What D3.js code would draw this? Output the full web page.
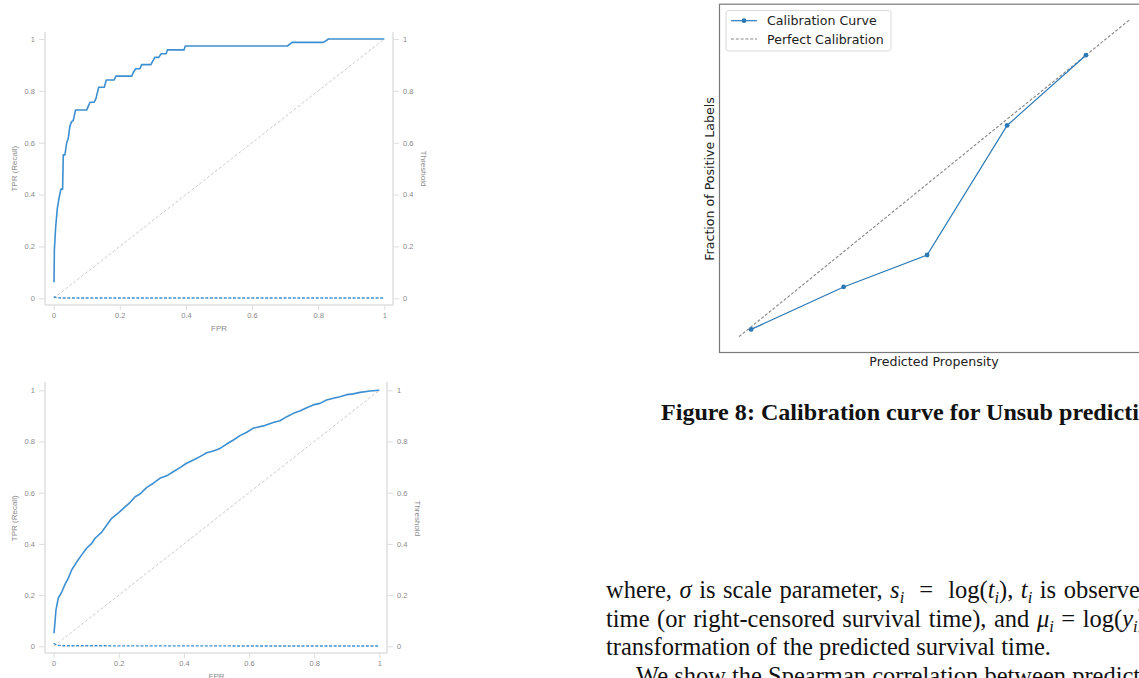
<!DOCTYPE html>
<html>
<head>
<meta charset="utf-8">
<script src="https://cdn.jsdelivr.net/npm/d3@7"></script>
<style>
  html, body { margin: 0; padding: 0; background: #fff; overflow: hidden; }
  svg { display: block; }
</style>
</head>
<body>
<svg id="page" width="1139" height="678"></svg>
<script>
// ---- data ----
const rocTicks = [0, 0.2, 0.4, 0.6, 0.8, 1];

// top ROC (step-like)
const roc1Fpr = [0.001, 0.002, 0.006, 0.011, 0.017, 0.022, 0.027, 0.029, 0.034, 0.039, 0.044, 0.049, 0.054, 0.059, 0.066,
  0.100, 0.105, 0.110, 0.122, 0.128, 0.136, 0.153, 0.159, 0.183, 0.188, 0.236, 0.242, 0.248, 0.261, 0.266, 0.294,
  0.300, 0.306, 0.318, 0.325, 0.340, 0.344, 0.394, 0.398, 0.707, 0.721, 0.816, 0.831, 1.000];
const roc1Tpr = [0.062, 0.186, 0.276, 0.347, 0.392, 0.421, 0.421, 0.553, 0.553, 0.598, 0.617, 0.664, 0.681, 0.685, 0.726,
  0.726, 0.742, 0.756, 0.756, 0.771, 0.814, 0.814, 0.842, 0.842, 0.857, 0.857, 0.874, 0.885, 0.885, 0.901, 0.901,
  0.916, 0.929, 0.929, 0.943, 0.943, 0.958, 0.958, 0.973, 0.973, 0.987, 0.987, 1.000, 1.000];

// bottom ROC (smooth)
const roc2Fpr = [0.001, 0.007, 0.014, 0.025, 0.035, 0.045, 0.055, 0.071, 0.086, 0.101, 0.117, 0.127, 0.147, 0.163, 0.178,
  0.198, 0.214, 0.234, 0.250, 0.265, 0.286, 0.306, 0.326, 0.347, 0.367, 0.388, 0.408, 0.429, 0.449, 0.470, 0.490,
  0.511, 0.531, 0.552, 0.572, 0.593, 0.613, 0.644, 0.674, 0.695, 0.716, 0.736, 0.756, 0.777, 0.797, 0.818, 0.838,
  0.859, 0.879, 0.900, 0.920, 0.941, 0.971, 1.000];
const roc2Tpr = [0.051, 0.142, 0.188, 0.213, 0.243, 0.266, 0.298, 0.330, 0.357, 0.383, 0.402, 0.422, 0.445, 0.474, 0.500,
  0.520, 0.539, 0.561, 0.584, 0.595, 0.621, 0.637, 0.656, 0.666, 0.682, 0.698, 0.715, 0.728, 0.741, 0.756, 0.763,
  0.773, 0.790, 0.806, 0.823, 0.836, 0.852, 0.861, 0.874, 0.881, 0.897, 0.910, 0.919, 0.932, 0.943, 0.949, 0.962,
  0.969, 0.975, 0.983, 0.986, 0.992, 0.997, 1.000];

// threshold curves (nearly zero)
const thrFpr = [0, 0.01, 0.03, 1];
const thr1 = [0.006, 0.002, 0.001, 0.001];
const thr2 = [0.012, 0.004, 0.002, 0.001];

// diagonal reference
const diagXY = [0, 1];

// calibration
const calPred = [0.031, 0.268, 0.482, 0.687, 0.889];
const calFrac = [0.023, 0.157, 0.258, 0.667, 0.889];
const perfectXY = [0, 1];
const legendLabels = ["Calibration Curve", "Perfect Calibration"];

const captionText = "Figure 8: Calibration curve for Unsub prediction";

// body text: [text, style] with style '' | 'i' (italic) | 'sub' (italic subscript)
const bodyLines = [
  [["where, "], ["σ", "i"], [" is scale parameter, "], ["s", "i"], ["i", "sub"], ["  =  log("], ["t", "i"], ["i", "sub"],
   ["), "], ["t", "i"], ["i", "sub"], [" is observed survival"]],
  [["time (or right-censored survival time), and "], ["μ", "i"], ["i", "sub"], [" = log("], ["y", "i"], ["i", "sub"],
   [") is the log"]],
  [["transformation of the predicted survival time."]],
  [["We show the Spearman correlation between predicted"]]
];
const bodyWordSpacing = [1.4, 1.4, 0, 0];

const svg = d3.select('#page');
const BLUE = '#3d8fd1';

function drawRoc(cfg, fpr, tpr, thr){
  const g = svg.append('g');
  const x = d3.scaleLinear().domain([0, 1]).range(cfg.xr);
  const y = d3.scaleLinear().domain([0, 1]).range(cfg.yr);
  const fmt = d3.format('~g');

  // frame: left, bottom, right
  g.append('path')
    .attr('d', `M${cfg.left},${cfg.top}V${cfg.bottom}H${cfg.right}V${cfg.top}`)
    .attr('fill', 'none').attr('stroke', '#cfcfcf').attr('stroke-width', 1);

  const yl = g.append('g').attr('transform', `translate(${cfg.left},0)`)
    .call(d3.axisLeft(y).tickValues(rocTicks).tickFormat(fmt).tickSize(6).tickPadding(4));
  const yr = g.append('g').attr('transform', `translate(${cfg.right},0)`)
    .call(d3.axisRight(y).tickValues(rocTicks).tickFormat(fmt).tickSize(6).tickPadding(4));
  const xa = g.append('g').attr('transform', `translate(0,${cfg.bottom})`)
    .call(d3.axisBottom(x).tickValues(rocTicks).tickFormat(fmt).tickSize(5).tickPadding(3));
  [yl, yr, xa].forEach(a => {
    a.select('.domain').remove();
    a.selectAll('line').attr('stroke', '#dedede');
    a.selectAll('text').attr('fill', '#8a8a8a').style('font', '7.5px "Liberation Sans", sans-serif');
  });

  // diagonal
  g.append('path')
    .attr('d', d3.line()([[x(diagXY[0]), y(diagXY[0])], [x(diagXY[1]), y(diagXY[1])]]))
    .attr('stroke', '#c4c4c4').attr('stroke-width', 0.9).attr('stroke-dasharray', '3,2').attr('fill', 'none');

  // threshold
  g.append('path')
    .datum(thrFpr.map((v, i) => [v, thr[i]]))
    .attr('d', d3.line().x(d => x(d[0])).y(d => y(d[1])))
    .attr('stroke', BLUE).attr('stroke-width', 1.4).attr('stroke-dasharray', '3,1.6').attr('fill', 'none');

  // ROC
  g.append('path')
    .datum(fpr.map((v, i) => [v, tpr[i]]))
    .attr('d', d3.line().x(d => x(d[0])).y(d => y(d[1])))
    .attr('stroke', BLUE).attr('stroke-width', 1.6).attr('fill', 'none').attr('stroke-linejoin', 'round');

  const lab = 'font: 8px "Liberation Sans", sans-serif; fill: #8a8a8a';
  const midY = (cfg.yr[0] + cfg.yr[1]) / 2;
  g.append('text').attr('x', (cfg.xr[0] + cfg.xr[1]) / 2).attr('y', cfg.fprY)
    .attr('text-anchor', 'middle').attr('style', lab).text('FPR');
  g.append('text').attr('transform', `translate(17,${midY}) rotate(-90)`)
    .attr('text-anchor', 'middle').attr('style', lab).text('TPR (Recall)');
  g.append('text').attr('transform', `translate(${cfg.right + 28},${midY}) rotate(90)`)
    .attr('text-anchor', 'middle').attr('style', lab).text('Threshold');
}

drawRoc({xr: [53.7, 384.3], yr: [298.3, 39], left: 45, right: 393, top: 32, bottom: 305, fprY: 331},
  roc1Fpr, roc1Tpr, thr1);
drawRoc({xr: [53.7, 379.3], yr: [646.3, 390.3], left: 45, right: 387, top: 382, bottom: 653, fprY: 679},
  roc2Fpr, roc2Tpr, thr2);

// ---- calibration chart ----
(function(){
  const g = svg.append('g');
  const x = d3.scaleLinear().domain([-0.05, 1.05]).range([719.5, 1148.8]);
  const y = d3.scaleLinear().domain([-0.05, 1.05]).range([352.5, 4.2]);
  const CAL = '#2b78b5';

  g.append('path')
    .attr('d', d3.line()(perfectXY.map(v => [x(v), y(v)])))
    .attr('stroke', '#858585').attr('stroke-width', 1.1).attr('stroke-dasharray', '3,1.8').attr('fill', 'none');

  const pts = calPred.map((v, i) => [x(v), y(calFrac[i])]);
  g.append('path').attr('d', d3.line()(pts))
    .attr('stroke', CAL).attr('stroke-width', 1.2).attr('fill', 'none');
  g.selectAll('circle.m').data(pts).join('circle')
    .attr('cx', d => d[0]).attr('cy', d => d[1]).attr('r', 2.4).attr('fill', CAL);

  g.append('rect')
    .attr('x', x.range()[0]).attr('y', y.range()[1])
    .attr('width', x.range()[1] - x.range()[0]).attr('height', y.range()[0] - y.range()[1])
    .attr('fill', 'none').attr('stroke', '#7a7a7a').attr('stroke-width', 1.2);

  // legend
  const lg = g.append('g').attr('transform', 'translate(726,10.5)');
  lg.append('rect').attr('width', 165).attr('height', 40.5).attr('rx', 2.5)
    .attr('fill', '#fff').attr('fill-opacity', 0.8).attr('stroke', '#d6d6d6').attr('stroke-width', 0.9);
  legendLabels.forEach((t, i) => {
    const yy = 10.2 + i * 18.3;
    lg.append('line').attr('x1', 5).attr('x2', 31).attr('y1', yy).attr('y2', yy)
      .attr('stroke', i ? '#858585' : CAL).attr('stroke-width', i ? 1.1 : 1.2)
      .attr('stroke-dasharray', i ? '3,1.8' : null);
    if (!i) lg.append('circle').attr('cx', 18).attr('cy', yy).attr('r', 2.4).attr('fill', CAL);
    lg.append('text').attr('x', 41).attr('y', yy + 4.5)
      .style('font', '12.6px "DejaVu Sans", sans-serif').attr('fill', '#222').text(t);
  });

  g.append('text').attr('x', 934).attr('y', 366).attr('text-anchor', 'middle')
    .style('font', '12.6px "DejaVu Sans", sans-serif').attr('fill', '#222').text('Predicted Propensity');
  g.append('text').attr('transform', 'translate(714,179) rotate(-90)').attr('text-anchor', 'middle')
    .style('font', '12.6px "DejaVu Sans", sans-serif').attr('fill', '#222').text('Fraction of Positive Labels');
})();

// ---- caption + body text ----
svg.append('text').attr('x', 661).attr('y', 420)
  .style('font', 'bold 24.1px "Liberation Serif", serif').attr('fill', '#111').text(captionText);

const bodyX = [606, 606, 606, 636];
const bodyY = [598, 627, 655, 684];
bodyLines.forEach((parts, li) => {
  const t = svg.append('text').attr('x', bodyX[li]).attr('y', bodyY[li])
    .style('font', '24.5px "Liberation Serif", serif').style('white-space', 'pre')
    .style('word-spacing', bodyWordSpacing[li] + 'px').attr('fill', '#111');
  let shift = 0;
  parts.forEach(p => {
    const s = t.append('tspan').text(p[0]);
    if (p[1] === 'i') s.style('font-style', 'italic');
    if (p[1] === 'sub') {
      s.style('font-style', 'italic').style('font-size', '16.5px').attr('dy', 5);
      shift = -5;
    } else if (shift) {
      s.attr('dy', shift);
      shift = 0;
    }
  });
});
</script>
</body>
</html>
